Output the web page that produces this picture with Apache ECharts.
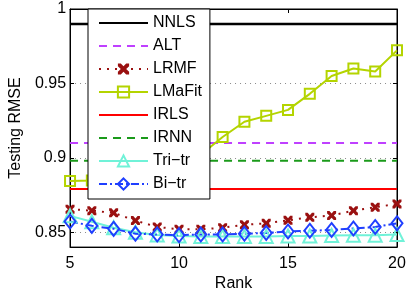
<!DOCTYPE html>
<html>
<head>
<meta charset="utf-8">
<script src="https://cdn.jsdelivr.net/npm/echarts@6/dist/echarts.min.js"></script>
<style>html,body{margin:0;padding:0;background:#fff}#c{width:409px;height:297px}</style>
</head>
<body>
<div id="c"></div>
<script>
var ranks = [5,6,7,8,9,10,11,12,13,14,15,16,17,18,19,20];
var nnls   = [0.990,0.990,0.990,0.990,0.990,0.990,0.990,0.990,0.990,0.990,0.990,0.990,0.990,0.990,0.990,0.990];
var alt    = [0.910,0.910,0.910,0.910,0.910,0.910,0.910,0.910,0.910,0.910,0.910,0.910,0.910,0.910,0.910,0.910];
var lrmf   = [0.8655,0.8645,0.8630,0.8578,0.8535,0.8520,0.8520,0.8530,0.8550,0.8560,0.8580,0.8600,0.8612,0.8645,0.8668,0.8690];
var lmafit = [0.8845,0.8848,0.8860,0.8880,0.8910,0.8960,0.9020,0.9140,0.9242,0.9282,0.9322,0.9430,0.9550,0.9600,0.9580,0.9722];
var irls   = [0.879,0.879,0.879,0.879,0.879,0.879,0.879,0.879,0.879,0.879,0.879,0.879,0.879,0.879,0.879,0.879];
var irnn   = [0.898,0.898,0.898,0.898,0.898,0.898,0.898,0.898,0.898,0.898,0.898,0.898,0.898,0.898,0.898,0.898];
var tritr  = [0.8610,0.8570,0.8530,0.8500,0.8482,0.8475,0.8472,0.8472,0.8472,0.8472,0.8475,0.8475,0.8478,0.8480,0.8480,0.8485];
var bitr   = [0.8572,0.8543,0.8523,0.8490,0.8485,0.8480,0.8485,0.8485,0.8490,0.8495,0.8505,0.8510,0.8515,0.8525,0.8535,0.8560];
var yTicks = [0.85,0.9,0.95,1];
var names  = ['NNLS','ALT','LRMF','LMaFit','IRLS','IRNN','Tri\u2212tr','Bi\u2212tr'];

function pairs(v){ return ranks.map(function(r,i){ return [r, v[i]]; }); }

var FONT = 'Liberation Sans';
var xSym = 'path://M0,0 L2.6,0 L5,2.6 L7.4,0 L10,0 L10,2.6 L7.4,5 L10,7.4 L10,10 L7.4,10 L5,7.4 L2.6,10 L0,10 L0,7.4 L2.6,5 L0,2.6 Z';

function mk(name, data, color, lineType, width, symbol, symSize, hollow){
  return {
    name: name, type: 'line', data: pairs(data),
    lineStyle: { color: color, width: width, type: lineType },
    itemStyle: { color: hollow ? 'rgba(255,255,255,0)' : color, borderColor: color, borderWidth: hollow ? 2 : 0 },
    symbol: symbol || 'none', symbolSize: symSize || 0,
    showSymbol: !!symbol, animation: false, z: 2
  };
}

var noMarker = { 'NNLS':1, 'ALT':1, 'IRLS':1, 'IRNN':1 };
var legendData = names.map(function(n){
  return noMarker[n] ? { name: n, itemStyle: { opacity: 0 } } : { name: n };
});

var chart = echarts.init(document.getElementById('c'), null, {renderer:'canvas'});
chart.setOption({
  backgroundColor: '#fff',
  animation: false,
  textStyle: { fontFamily: FONT },
  grid: { left: 63, right: 12, top: 9, bottom: 44, show: true, borderColor: '#000', borderWidth: 1, backgroundColor: '#fff' },
  legend: {
    left: 88, top: 9, orient: 'vertical',
    backgroundColor: '#fff', borderColor: '#000', borderWidth: 1,
    padding: [6, 8, 7, 10],
    itemWidth: 49, itemHeight: 14, itemGap: 7,
    textStyle: { fontFamily: FONT, fontSize: 16, color: '#000', lineHeight: 16 },
    data: legendData,
    z: 10
  },
  xAxis: [{
    type: 'value', min: 5, max: 20, interval: 5,
    name: 'Rank', nameLocation: 'middle', nameGap: 27,
    nameTextStyle: { fontFamily: FONT, fontSize: 16, color: '#000' },
    axisLine: { show: true, onZero: false, lineStyle: { color: '#000', width: 1 } },
    axisTick: { show: true, inside: true, length: 4, lineStyle: { color: '#000' } },
    axisLabel: { fontFamily: FONT, fontSize: 16, color: '#000', margin: 8 },
    splitLine: { show: false }
  },{
    type: 'value', min: 5, max: 20, interval: 5, position: 'top',
    axisLine: { show: true, onZero: false, lineStyle: { color: '#000' } },
    axisTick: { show: true, inside: true, length: 4, lineStyle: { color: '#000' } },
    axisLabel: { show: false }, splitLine: { show: false }
  }],
  yAxis: [{
    type: 'value', min: 0.84, max: 1,
    name: 'Testing RMSE', nameLocation: 'middle', nameGap: 45,
    nameTextStyle: { fontFamily: FONT, fontSize: 16, color: '#000' },
    axisLine: { show: true, onZero: false, lineStyle: { color: '#000', width: 1 } },
    axisTick: { show: true, inside: true, length: 4, customValues: yTicks, lineStyle: { color: '#000' } },
    axisLabel: { fontFamily: FONT, fontSize: 16, color: '#000', margin: 4, customValues: yTicks,
      formatter: function(v){ return String(Math.round(v*100)/100); } },
    splitLine: { show: true, customValues: yTicks, lineStyle: { color: '#8a8a8a', type: [1,4], width: 1 } }
  },{
    type: 'value', min: 0.84, max: 1, position: 'right',
    axisLine: { show: true, onZero: false, lineStyle: { color: '#000' } },
    axisTick: { show: true, inside: true, length: 4, customValues: yTicks, lineStyle: { color: '#000' } },
    axisLabel: { show: false }, splitLine: { show: false }
  }],
  series: [
    mk(names[0], nnls, '#000000', 'solid', 2.5),
    mk(names[1], alt, '#BF40FF', [8,6], 2),
    mk(names[2], lrmf, '#9A1010', [2,6], 2, xSym, 9, false),
    mk(names[3], lmafit, '#B4D400', 'solid', 2, 'rect', 10, true),
    mk(names[4], irls, '#FF0000', 'solid', 2),
    mk(names[5], irnn, '#1A9A1A', [8,6], 2),
    mk(names[6], tritr, '#70F2D8', 'solid', 2, 'triangle', 13, true),
    mk(names[7], bitr, '#1F3FFF', [8,3,2,3], 2, 'diamond', [11,14], true)
  ]
});
</script>
</body>
</html>
